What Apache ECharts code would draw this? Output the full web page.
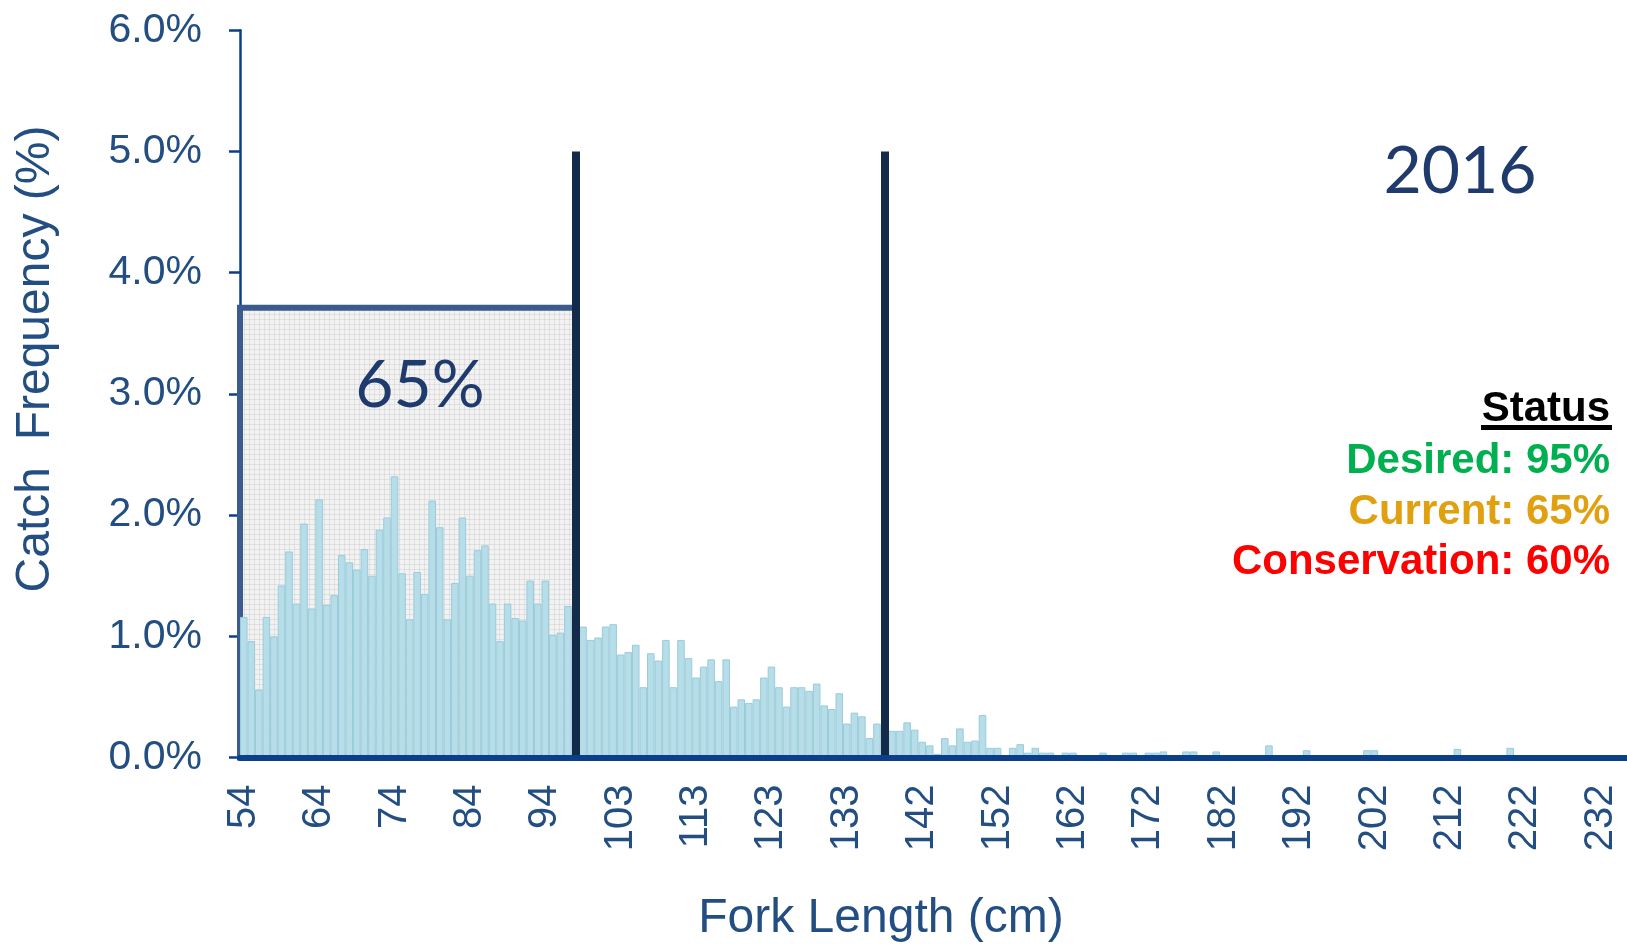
<!DOCTYPE html>
<html>
<head>
<meta charset="utf-8">
<script src="https://cdn.jsdelivr.net/npm/echarts@6/dist/echarts.min.js"></script>
<style>
  html, body { margin: 0; padding: 0; background: #ffffff; }
  #chart { width: 1627px; height: 944px; }
</style>
</head>
<body>
<div id="chart"></div>
<script>
// Fork length bins (cm) – only every 10th bin is labelled on the axis
const lengths = [
  54, 55, 56, 57, 58, 59, 60, 61, 62, 63,
  64, 65, 66, 67, 68, 69, 70, 71, 72, 73,
  74, 75, 76, 77, 78, 79, 80, 81, 82, 83,
  84, 85, 86, 87, 88, 89, 90, 91, 92, 93,
  94, 95, 96, 97, 97.5, 98, 99, 100, 101, 102,
  103, 104, 105, 106, 107, 108, 109, 110, 111, 112,
  113, 114, 115, 116, 117, 118, 119, 120, 121, 122,
  123, 124, 125, 126, 127, 128, 129, 130, 131, 132,
  133, 134, 135, 136, 137, 137.5, 138, 139, 140, 141,
  142, 143, 144, 145, 146, 147, 148, 149, 150, 151,
  152, 153, 154, 155, 156, 157, 158, 159, 160, 161,
  162, 163, 164, 165, 166, 167, 168, 169, 170, 171,
  172, 173, 174, 175, 176, 177, 178, 179, 180, 181,
  182, 183, 184, 185, 186, 187, 188, 189, 190, 191,
  192, 193, 194, 195, 196, 197, 198, 199, 200, 201,
  202, 203, 204, 205, 206, 207, 208, 209, 210, 211,
  212, 213, 214, 215, 216, 217, 218, 219, 220, 221,
  222, 223, 224, 225, 226, 227, 228, 229, 230, 231,
  232, 233, 234, 235
];

// Catch frequency (%) per bin
const frequency = [
  1.16, 0.96, 0.56, 1.16, 1.00, 1.42, 1.70, 1.27, 1.93, 1.23,
  2.13, 1.26, 1.34, 1.67, 1.61, 1.55, 1.72, 1.50, 1.88, 1.98,
  2.32, 1.52, 1.14, 1.53, 1.35, 2.12, 1.90, 1.14, 1.44, 1.98,
  1.50, 1.71, 1.75, 1.27, 0.96, 1.27, 1.15, 1.13, 1.46, 1.27,
  1.46, 1.01, 1.03, 1.25, 1.15, 1.08, 0.97, 0.99, 1.08, 1.10,
  0.85, 0.87, 0.93, 0.58, 0.86, 0.80, 0.97, 0.58, 0.97, 0.82,
  0.66, 0.75, 0.81, 0.63, 0.81, 0.42, 0.48, 0.45, 0.48, 0.66,
  0.75, 0.58, 0.42, 0.58, 0.58, 0.55, 0.61, 0.43, 0.40, 0.53,
  0.28, 0.37, 0.34, 0.16, 0.28, 0.24, 0.22, 0.22, 0.29, 0.23,
  0.13, 0.10, 0.03, 0.16, 0.10, 0.24, 0.13, 0.14, 0.35, 0.08,
  0.08, 0, 0.08, 0.11, 0.04, 0.08, 0.04, 0.04, 0, 0.04,
  0.04, 0, 0, 0, 0.04, 0, 0, 0.04, 0.04, 0,
  0.04, 0.04, 0.05, 0, 0, 0.05, 0.05, 0, 0, 0.05,
  0, 0, 0, 0, 0, 0, 0.10, 0, 0, 0,
  0, 0.06, 0, 0, 0, 0, 0, 0, 0, 0.06,
  0.06, 0, 0, 0, 0, 0, 0, 0, 0, 0,
  0, 0.07, 0, 0, 0, 0, 0, 0, 0.08, 0,
  0, 0, 0, 0, 0, 0, 0, 0, 0, 0,
  0, 0, 0, 0
];

// Y axis ticks (%)
const yTicks = [0, 1, 2, 3, 4, 5, 6];

// Slot limits (bin index positions) and the highlighted share box
const slotLimitBins = [44, 85];
const slotLimitHeight = 5;
const boxTop = 3.71;
const boxLabel = '65%';
const yearLabel = '2016';

const statusTitle = 'Status';
const statusLines = ['Desired: 95%', 'Current: 65%', 'Conservation: 60%'];
const statusColors = ['#00B050', '#E0A010', '#FF0000'];

const FONT = '"Liberation Sans", Arial, sans-serif';
const TEXT_BLUE = '#234E82';
const AXIS_BLUE = '#0C3F8A';

// light grey mesh texture for the highlighted area
const pat = document.createElement('canvas');
pat.width = 5; pat.height = 5;
const pctx = pat.getContext('2d');
pctx.fillStyle = 'rgba(218,218,218,0.36)';
pctx.fillRect(0, 0, 5, 5);
pctx.fillStyle = 'rgba(185,185,185,0.30)';
pctx.fillRect(4, 0, 1, 5);
pctx.fillRect(0, 4, 5, 1);

const chart = echarts.init(document.getElementById('chart'), null, { renderer: 'canvas' });

function legendText(txt, color, y) {
  return {
    type: 'text', x: 1610, y: y, z: 20,
    style: { text: txt, fill: color, font: 'bold 42px ' + FONT, align: 'right', verticalAlign: 'middle' }
  };
}

const option = {
  backgroundColor: '#ffffff',
  animation: false,
  grid: { left: 240, top: 30.3, width: 7.56 * lengths.length, height: 727.2, containLabel: false },
  xAxis: [
    {
      type: 'category',
      data: lengths.map(String),
      boundaryGap: true,
      z: 10,
      axisLine: { show: true, lineStyle: { color: AXIS_BLUE, width: 6 } },
      axisTick: { show: false },
      axisLabel: {
        interval: 9,
        rotate: 90,
        margin: 27,
        color: TEXT_BLUE,
        fontFamily: FONT,
        fontSize: 40
      },
      splitLine: { show: false }
    },
    {
      type: 'value',
      show: false,
      min: -0.5,
      max: lengths.length - 0.5
    }
  ],
  yAxis: {
    type: 'value',
    min: yTicks[0],
    max: yTicks[yTicks.length - 1],
    interval: 1,
    axisLine: { show: true, onZero: false, lineStyle: { color: AXIS_BLUE, width: 2.5 } },
    axisTick: { show: true, inside: false, length: 11, lineStyle: { color: AXIS_BLUE, width: 2.5 } },
    axisLabel: {
      margin: 38,
      color: TEXT_BLUE,
      fontFamily: FONT,
      fontSize: 41,
      formatter: v => v.toFixed(1) + '%'
    },
    splitLine: { show: false }
  },
  series: [
    {
      type: 'bar',
      xAxisIndex: 0,
      data: frequency,
      barCategoryGap: '0%',
      z: 2,
      itemStyle: { color: '#B7DDE8', borderColor: '#98CCDB', borderWidth: 1 }
    },
    {
      type: 'line',
      xAxisIndex: 1,
      data: [[0, 0]],
      symbol: 'none',
      lineStyle: { opacity: 0 },
      silent: true,
      z: 3,
      markLine: {
        silent: true,
        symbol: ['none', 'none'],
        label: { show: false },
        lineStyle: { color: '#132A4A', width: 8, type: 'solid' },
        data: slotLimitBins.map(b => [{ coord: [b, 0] }, { coord: [b, slotLimitHeight] }])
      }
    },
    {
      type: 'line',
      xAxisIndex: 1,
      data: [[0, 0]],
      symbol: 'none',
      lineStyle: { opacity: 0 },
      silent: true,
      z: 4,
      markArea: {
        silent: true,
        label: { show: false },
        itemStyle: {
          color: { image: pat, repeat: 'repeat' },
          borderColor: '#3B5B8C',
          borderWidth: 6
        },
        data: [[{ coord: [-0.5, 0] }, { coord: [slotLimitBins[0], boxTop] }]]
      }
    }
  ],
  graphic: [
    {
      type: 'text', x: 420, y: 386, z: 20,
      style: { text: boxLabel, fill: '#1F3A6C', font: '66px Lato, "Open Sans", sans-serif', align: 'center', verticalAlign: 'middle' }
    },
    {
      type: 'text', x: 1460, y: 172, z: 20,
      style: { text: yearLabel, fill: '#1F3A6C', font: '66px Lato, "Open Sans", sans-serif', align: 'center', verticalAlign: 'middle' }
    },
    {
      type: 'text', x: 36, y: 359, rotation: Math.PI / 2, z: 20,
      style: { text: 'Catch  Frequency (%)', fill: TEXT_BLUE, font: '48px ' + FONT, align: 'center', verticalAlign: 'middle' }
    },
    {
      type: 'text', x: 881, y: 919, z: 20,
      style: { text: 'Fork Length (cm)', fill: TEXT_BLUE, font: '48px ' + FONT, align: 'center', verticalAlign: 'middle' }
    },
    legendText(statusTitle, '#000000', 409),
    {
      type: 'rect', z: 20,
      shape: { x: 1481, y: 425, width: 131, height: 5 },
      style: { fill: '#000000' }
    },
    legendText(statusLines[0], statusColors[0], 461),
    legendText(statusLines[1], statusColors[1], 512),
    legendText(statusLines[2], statusColors[2], 562)
  ]
};

chart.setOption(option);
</script>
</body>
</html>
